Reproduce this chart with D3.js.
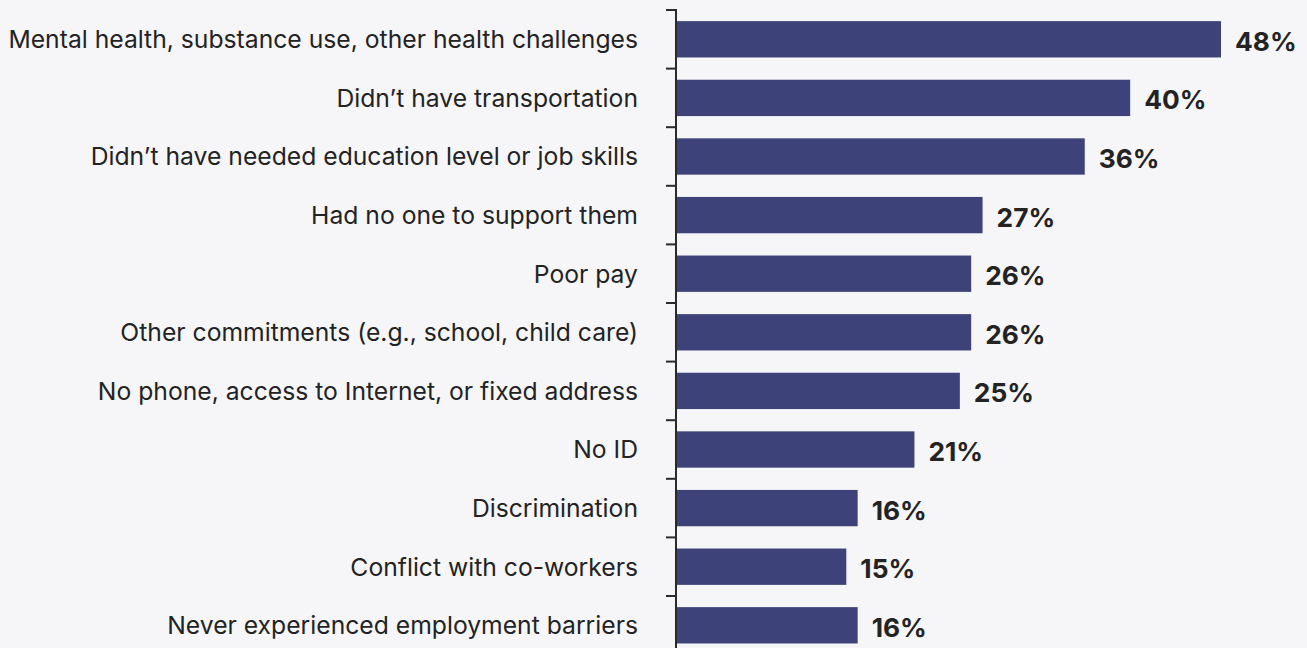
<!DOCTYPE html>
<html><head><meta charset="utf-8">
<script src="https://cdn.jsdelivr.net/npm/d3@7"></script>
<style>
html,body{margin:0;padding:0;background:#f6f6f9;}
svg{display:block;}
</style></head><body>
<svg id="chart" width="1307" height="648"></svg>
<script>
const categories = [
  "Mental health, substance use, other health challenges",
  "Didn\u2019t have transportation",
  "Didn\u2019t have needed education level or job skills",
  "Had no one to support them",
  "Poor pay",
  "Other commitments (e.g., school, child care)",
  "No phone, access to Internet, or fixed address",
  "No ID",
  "Discrimination",
  "Conflict with co-workers",
  "Never experienced employment barriers"
];
const values = [48, 40, 36, 27, 26, 26, 25, 21, 16, 15, 16];
const valueLabels = ["48%","40%","36%","27%","26%","26%","25%","21%","16%","15%","16%"];

const svg = d3.select("#chart");
const axisX = 676, topY = 10, step = 58.6;
const n = categories.length;

const x = d3.scaleLinear().domain([0, 48]).range([axisX, 1221]);
const y = d3.scaleBand().domain(categories).range([topY, topY + step * n])
  .paddingInner(0.38).paddingOuter(0.19);

svg.append("g").selectAll("rect").data(categories).join("rect")
  .attr("x", x(0))
  .attr("y", d => y(d))
  .attr("width", (d, i) => x(values[i]) - x(0))
  .attr("height", y.bandwidth())
  .attr("fill", "#3d4378");

svg.append("g").selectAll("text").data(categories).join("text")
  .attr("x", 638)
  .attr("y", d => y(d) + y.bandwidth() / 2)
  .attr("dy", "0.36em")
  .attr("text-anchor", "end")
  .attr("font-family", "Inter, sans-serif")
  .attr("font-size", 24.7)
  .attr("fill", "#232323")
  .text(d => d);

svg.append("g").selectAll("text").data(categories).join("text")
  .attr("x", (d, i) => x(values[i]) + 14)
  .attr("y", d => y(d) + y.bandwidth() / 2 + 2)
  .attr("dy", "0.36em")
  .attr("font-family", "Inter, sans-serif")
  .attr("font-weight", 700)
  .attr("font-size", 26.3)
  .attr("fill", "#232323")
  .text((d, i) => valueLabels[i]);

// axis line and band boundary ticks
const ax = svg.append("g").attr("stroke", "#2a2a2a").attr("stroke-width", 2);
ax.append("line").attr("x1", axisX).attr("x2", axisX).attr("y1", topY - 1).attr("y2", 648);
const bounds = d3.range(n + 1).map(i => y.range()[0] + i * y.step());
ax.selectAll("line.tick").data(bounds).join("line").attr("class", "tick")
  .attr("x1", axisX - 10).attr("x2", axisX)
  .attr("y1", d => d).attr("y2", d => d);
</script>
</body></html>
